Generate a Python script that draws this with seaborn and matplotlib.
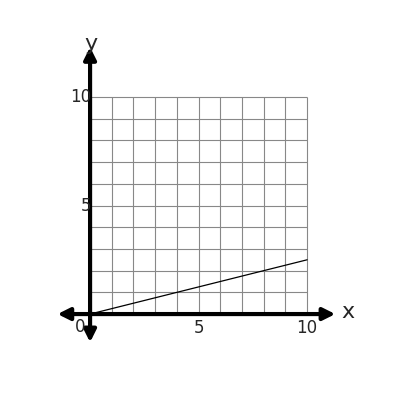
import numpy as np
import matplotlib
matplotlib.use("Agg")
import matplotlib.pyplot as plt
import seaborn as sns

sns.set_style("white")

line_x = [0, 10]
line_y = [0, 2.5]
grid_ticks = list(range(0, 11))
x_labels = [5, 10]
y_labels = [5, 10]

fig = plt.figure(figsize=(4, 4), dpi=100)
ax = fig.add_axes([0, 0, 1, 1])
ax.set_xlim(-4.15, 14.28)
ax.set_ylim(-3.96, 14.47)
ax.axis("off")

# grid
ax.vlines(grid_ticks, 0, 10, color="#888888", lw=0.8)
ax.hlines(grid_ticks, 0, 10, color="#888888", lw=0.8)

# axes with arrows on both ends
arrow = dict(arrowstyle="<|-|>", color="black", lw=3, mutation_scale=18, shrinkA=0, shrinkB=0)
ax.annotate("", xy=(11.3, 0), xytext=(-1.5, 0), arrowprops=arrow)
ax.annotate("", xy=(0, 12.3), xytext=(0, -1.3), arrowprops=arrow)

sns.lineplot(x=line_x, y=line_y, color="black", lw=0.9, ax=ax)

ax.text(11.6, 0.1, "x", fontsize=16, ha="left", va="center")
ax.text(0.05, 12.0, "y", fontsize=16, ha="center", va="bottom")
ax.text(-0.2, -0.2, "0", fontsize=12, ha="right", va="top")
for v in x_labels:
    ax.text(v, -0.25, str(v), fontsize=12, ha="center", va="top")
for v in y_labels:
    ax.text(0.05, v, str(v), fontsize=12, ha="right", va="center")

fig.savefig("out.png", dpi=100)
